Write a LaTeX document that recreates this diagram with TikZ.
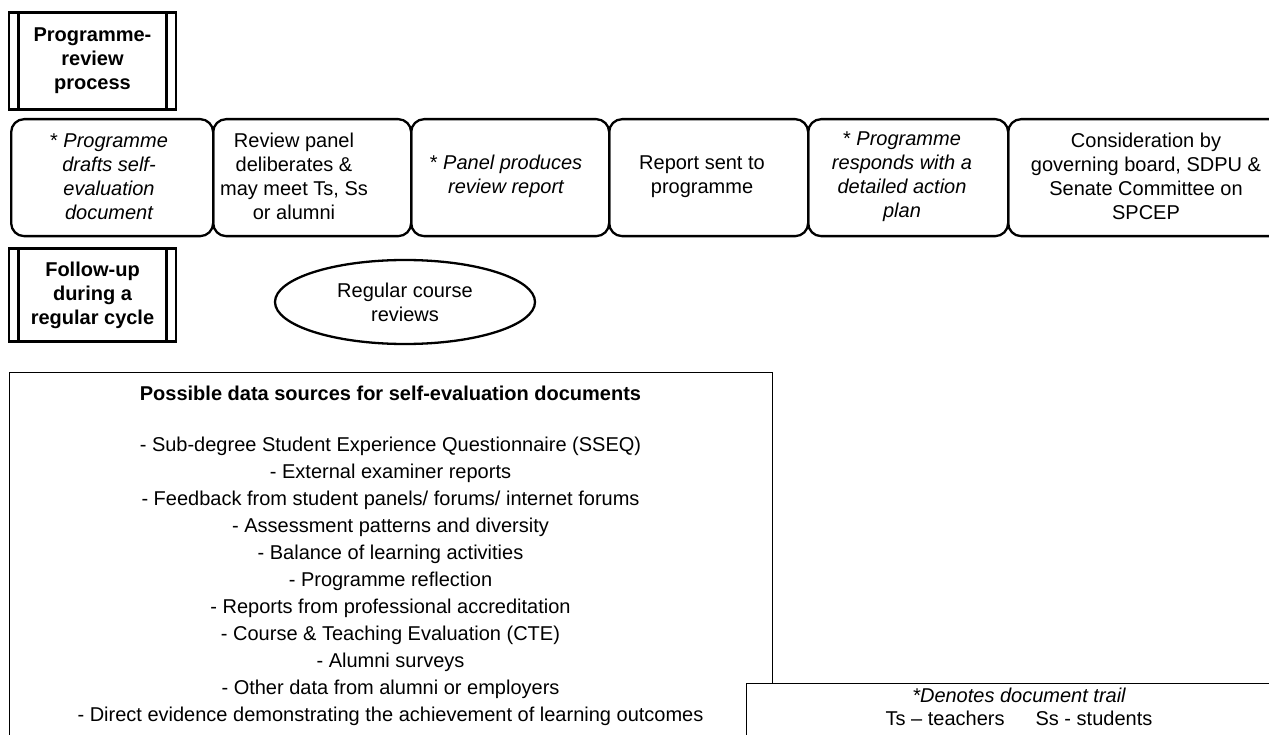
\documentclass[tikz,border=0pt]{standalone}
\usepackage{fontspec}
\setmainfont{Liberation Sans}
\usetikzlibrary{shapes.geometric}
\tikzset{
  procbox/.style={draw, line width=2.6pt, minimum width=167pt, minimum height=97pt, inner sep=0pt,
    font=\bfseries\fontsize{20}{24}\selectfont, align=center},
  procline/.style={line width=2.6pt},
  rowbox/.style={draw, line width=2.3pt, rounded corners=13pt, minimum height=117pt, inner sep=0pt, anchor=north west},
  rowtext/.style={font=\fontsize{20}{24}\selectfont, align=center, inner sep=0pt},
  thinbox/.style={draw, line width=1.4pt, inner sep=0pt, anchor=north west},
}
\begin{document}
\begin{tikzpicture}[x=1pt,y=-1pt]
\useasboundingbox (0,0) rectangle (1269,735);
\clip (0,0) rectangle (1269,735);
\fill[white] (0,0) rectangle (1269,735);

% process boxes
\node[procbox] (p1) at (92.5,61) {Programme-\\review\\process};
\draw[procline] ([xshift=11pt]p1.north west) -- ([xshift=11pt]p1.south west);
\draw[procline] ([xshift=-11pt]p1.north east) -- ([xshift=-11pt]p1.south east);

\node[procbox, minimum height=93pt] (p2) at (92.5,295) {Follow-up\\during a\\regular cycle};
\draw[procline] ([xshift=11pt]p2.north west) -- ([xshift=11pt]p2.south west);
\draw[procline] ([xshift=-11pt]p2.north east) -- ([xshift=-11pt]p2.south east);

% row of boxes
\node[rowbox, minimum width=202pt] (r1) at (10,118) {};
\node[rowbox, minimum width=198pt] (r2) at (212,118) {};
\node[rowbox, minimum width=198pt] (r3) at (410,118) {};
\node[rowbox, minimum width=199pt] (r4) at (608,118) {};
\node[rowbox, minimum width=200pt] (r5) at (807,118) {};
\node[rowbox, minimum width=290pt] (r6) at (1007,118) {};

\node[rowtext] (t1) at (109,176.5) {\itshape{\upshape *} Programme\\\itshape drafts self-\\\itshape evaluation\\\itshape document};
\node[rowtext] (t2) at (294,176.5) {Review panel\\deliberates \&\\may meet Ts, Ss\\or alumni};
\node[rowtext] (t3) at (506,176.5) {\itshape{\upshape *} Panel produces\\\itshape review report};
\node[rowtext] (t4) at (702,176.5) {Report sent to\\programme};
\node[rowtext] (t5) at (902,176.5) {\itshape{\upshape *} Programme\\\itshape responds with a\\\itshape detailed action\\\itshape plan};
\node[rowtext] (t6) at (1146,176.5) {Consideration by\\governing board, SDPU \&\\Senate Committee on\\SPCEP};

% ellipse
\node[draw, ellipse, line width=2.3pt, minimum width=260pt, minimum height=84pt, inner sep=0pt,
  font=\fontsize{20}{24}\selectfont, align=center] (ell) at (405,302) {Regular course\\reviews};

% data sources box
\node[thinbox, minimum width=763pt, minimum height=390pt] (data) at (9,372) {};
\node[font=\bfseries\fontsize{20}{24}\selectfont, inner sep=0pt] (dtitle) at (390.5,393) {Possible data sources for self-evaluation documents};
\node[font=\fontsize{20}{27}\selectfont, align=center, inner sep=0pt] (dlist) at (390.5,581) {%
- Sub-degree Student Experience Questionnaire (SSEQ)\\
- External examiner reports\\
- Feedback from student panels/ forums/ internet forums\\
- Assessment patterns and diversity\\
- Balance of learning activities\\
- Programme reflection\\
- Reports from professional accreditation\\
- Course \& Teaching Evaluation (CTE)\\
- Alumni surveys\\
- Other data from alumni or employers\\
- Direct evidence demonstrating the achievement of learning outcomes};

% legend
\node[thinbox, fill=white, minimum width=548pt, minimum height=90pt] (legend) at (746,683) {};
\node[font=\fontsize{20}{23}\selectfont, align=center, inner sep=0pt] (ltext) at (1019,707) {\itshape *Denotes document trail\\Ts -- teachers\hspace{31pt}Ss - students};
\end{tikzpicture}
\end{document}
